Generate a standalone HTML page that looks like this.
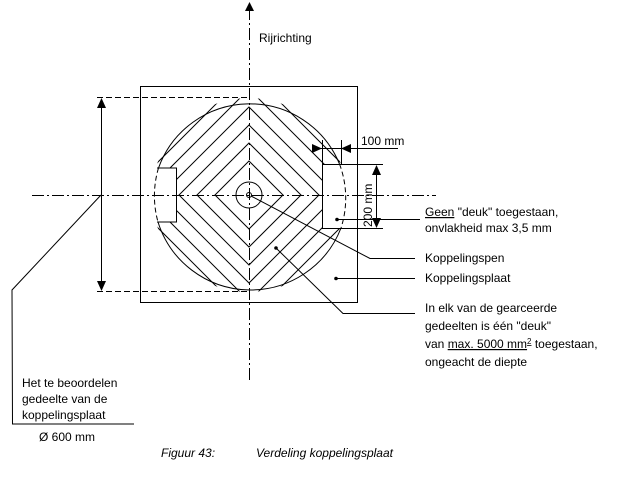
<!DOCTYPE html>
<html><head><meta charset="utf-8"><style>
html,body{margin:0;padding:0;background:#fff;}
svg{display:block;}
text{font-family:"Liberation Sans",Arial,sans-serif;font-size:12px;fill:#000;}
</style></head><body>
<svg width="625" height="482" viewBox="0 0 625 482" xmlns="http://www.w3.org/2000/svg">
<defs>
<clipPath id="cc"><circle cx="249" cy="195" r="97"/></clipPath>
</defs>
<!-- hatching diamonds -->
<g clip-path="url(#cc)" fill="none" stroke="#000" stroke-width="1">
<polygon points="249,161 283,195 249,229 215,195"/>
<polygon points="249,143 301,195 249,247 197,195"/>
<polygon points="249,125 319,195 249,265 179,195"/>
<polygon points="249,107 337,195 249,283 161,195"/>
<polygon points="249,89 355,195 249,301 143,195"/>
<polygon points="249,71 373,195 249,319 125,195"/>
<polygon points="249,53 391,195 249,337 107,195"/>
</g>
<!-- mask rects -->
<rect x="150" y="168" width="26" height="54" fill="#fff"/>
<rect x="322" y="164" width="30" height="64" fill="#fff"/>
<rect x="237" y="183" width="24" height="24" fill="#fff"/>
<g fill="none" stroke="#000" stroke-width="1">
<!-- square plate -->
<rect x="140.5" y="86.5" width="217" height="216"/>
<!-- circle solid parts -->
<path d="M 158.5 168 A 97 97 0 0 1 339.5 164" />
<path d="M 341 228 A 97 97 0 0 1 158 222" />
<!-- dashed parts -->
<path d="M 158.5 168 A 97 97 0 0 0 158 222" stroke-dasharray="5,3"/>
<path d="M 339.5 164 A 97 97 0 0 1 341 228" stroke-dasharray="5,3"/>
<!-- rects -->
<polyline points="157,168 176.5,168 176.5,222 157,222"/>
<polyline points="340,164.5 322.5,164.5 322.5,228.5 341,228.5"/>
<!-- pin -->
<circle cx="249" cy="195" r="13"/>
<circle cx="249" cy="195" r="2.5"/>
<!-- axes -->
<line x1="249.5" y1="8" x2="249.5" y2="382" stroke-dasharray="12,3,2,3"/>
<line x1="32" y1="195.5" x2="436" y2="195.5" stroke-dasharray="12,3,2,3"/>
<!-- dim 600 -->
<line x1="97" y1="97.5" x2="249" y2="97.5" stroke-dasharray="6,3"/>
<line x1="97" y1="291.5" x2="249" y2="291.5" stroke-dasharray="6,3"/>
<line x1="101.5" y1="100" x2="101.5" y2="289"/>
<polyline points="101,195 12,290 12.5,424 134,424"/>
<!-- 100 mm -->
<line x1="322.5" y1="140" x2="322.5" y2="164"/>
<line x1="341.5" y1="140" x2="341.5" y2="164"/>
<line x1="312" y1="148.5" x2="398" y2="148.5"/>
<!-- 200 mm -->
<line x1="322" y1="164.5" x2="383" y2="164.5"/>
<line x1="322" y1="228.5" x2="383" y2="228.5"/>
<line x1="376.5" y1="166" x2="376.5" y2="226"/>
<!-- leaders -->
<line x1="337" y1="219.5" x2="420" y2="219.5"/>
<polyline points="251,196 370,258.5 415,258.5"/>
<line x1="336" y1="278.5" x2="415" y2="278.5"/>
<polyline points="276,248 343,313.5 415,313.5"/>
</g>
<g fill="#000">
<polygon points="249.5,2 245,11 254,11"/>
<polygon points="101.5,98 97,108 106,108"/>
<polygon points="101.5,291 97,281 106,281"/>
<polygon points="322,148.5 312,144 312,153"/>
<polygon points="341,148.5 351,144 351,153"/>
<polygon points="376.5,165 372,175 381,175"/>
<polygon points="376.5,228 372,218 381,218"/>
<circle cx="337" cy="219.5" r="1.8"/>
<circle cx="336" cy="278.5" r="1.8"/>
<circle cx="276" cy="248" r="1.8"/>
</g>
<text x="259" y="42">Rijrichting</text>
<text x="361" y="145">100 mm</text>
<text transform="translate(372,227) rotate(-90)">200 mm</text>
<text x="425" y="216"><tspan text-decoration="underline">Geen</tspan> "deuk" toegestaan,</text>
<text x="425" y="232">onvlakheid max 3,5 mm</text>
<text x="425" y="262">Koppelingspen</text>
<text x="425" y="282">Koppelingsplaat</text>
<text x="425" y="312">In elk van de gearceerde</text>
<text x="425" y="330">gedeelten is één "deuk"</text>
<text x="425" y="348">van <tspan text-decoration="underline">max. 5000 mm<tspan font-size="8" dy="-4">2</tspan></tspan><tspan dy="4"> toegestaan,</tspan></text>
<text x="425" y="366">ongeacht de diepte</text>
<text x="22" y="387">Het te beoordelen</text>
<text x="22" y="403">gedeelte van de</text>
<text x="22" y="419">koppelingsplaat</text>
<text x="39" y="441">Ø 600 mm</text>
<text x="161" y="457" font-style="italic">Figuur 43:</text>
<text x="256" y="457" font-style="italic">Verdeling koppelingsplaat</text>
</svg>
</body></html>
